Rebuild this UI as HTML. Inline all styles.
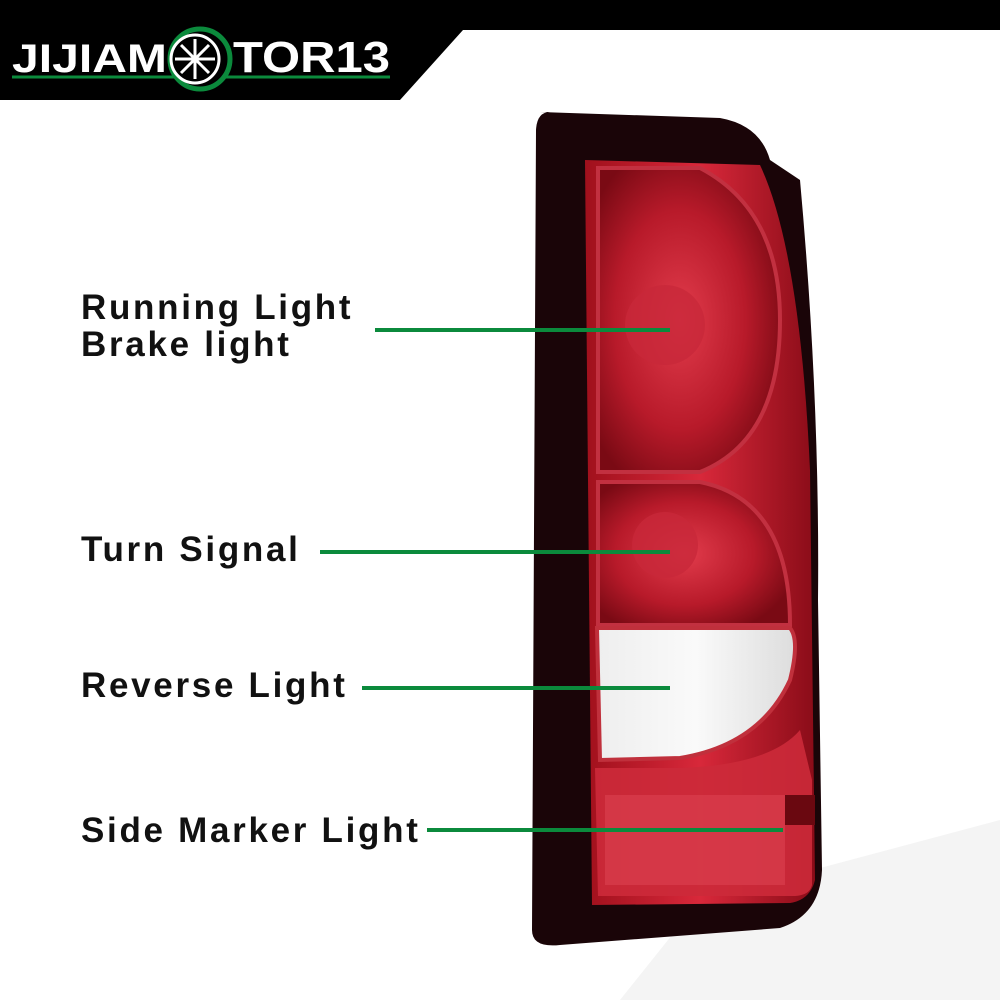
<!DOCTYPE html>
<html><head><meta charset="utf-8"><style>
body{margin:0;width:1000px;height:1000px;overflow:hidden;background:#fff;font-family:"Liberation Sans",sans-serif}
.t{position:absolute;font-weight:bold;font-size:35px;color:#111;letter-spacing:2.7px;line-height:37px}
</style></head><body>
<svg width="1000" height="1000" style="position:absolute;left:0;top:0">
<defs>
<linearGradient id="red" x1="0" x2="1"><stop offset="0" stop-color="#a0101c"/><stop offset="0.5" stop-color="#d8283a"/><stop offset="1" stop-color="#8a0c18"/></linearGradient>
<radialGradient id="lens" cx="0.45" cy="0.5" r="0.6"><stop offset="0" stop-color="#e23c4c"/><stop offset="0.6" stop-color="#b81a2a"/><stop offset="1" stop-color="#7a0a14"/></radialGradient>
<linearGradient id="wh" x1="0" x2="1"><stop offset="0" stop-color="#eee"/><stop offset="0.5" stop-color="#fafafa"/><stop offset="1" stop-color="#ddd"/></linearGradient>
</defs>
<polygon points="0,0 1000,0 1000,30 463,30 400,100 0,100" fill="#000"/>
<polygon points="700,900 1000,820 1000,1000 620,1000" fill="#ececec" opacity="0.6"/>
<path d="M540,112 L720,118 Q760,125 770,160 L800,180 Q820,400 818,600 L822,870 Q820,915 780,928 L560,945 Q532,948 532,930 L536,130 Q537,112 550,112 Z" fill="#1a0508"/>
<path d="M585,160 L760,165 Q800,250 810,470 L815,880 Q810,900 790,903 L592,905 Z" fill="url(#red)"/>
<path d="M598,168 L700,168 Q780,210 780,320 Q780,440 700,472 L598,472 Z" fill="url(#lens)" stroke="#c23040" stroke-width="4"/>
<circle cx="665" cy="325" r="40" fill="#c8283a" opacity="0.8"/>
<path d="M598,482 L700,482 Q790,500 790,625 L598,625 Z" fill="url(#lens)" stroke="#c23040" stroke-width="4"/>
<circle cx="665" cy="545" r="33" fill="#c8283a" opacity="0.8"/>
<path d="M597,628 L790,628 Q800,640 790,680 Q760,745 680,758 L600,760 Z" fill="url(#wh)" stroke="#c0303c" stroke-width="4"/>
<path d="M595,768 L680,768 Q770,765 800,730 L812,780 L812,885 Q810,895 795,896 L598,896 Z" fill="#cc2a3a" opacity="0.9"/>
<rect x="605" y="795" width="180" height="90" fill="#e04656" opacity="0.5"/>
<rect x="785" y="795" width="30" height="30" fill="#6a0810"/>
<g stroke="#0b8a3c" stroke-width="4">
<line x1="375" y1="330" x2="670" y2="330"/>
<line x1="320" y1="552" x2="670" y2="552"/>
<line x1="362" y1="688" x2="670" y2="688"/>
<line x1="427" y1="830" x2="783" y2="830"/>
</g>
<line x1="12" y1="77" x2="390" y2="77" stroke="#0b8a3c" stroke-width="3"/>
<circle cx="200" cy="59" r="30" fill="#000" stroke="#0b8a3c" stroke-width="5"/>
<circle cx="195" cy="59" r="24" fill="none" stroke="#fff" stroke-width="3"/>
<g stroke="#fff" stroke-width="3"><line x1="175" y1="59" x2="215" y2="59"/><line x1="195" y1="39" x2="195" y2="79"/><line x1="181" y1="45" x2="209" y2="73"/><line x1="209" y1="45" x2="181" y2="73"/></g>
<text x="12" y="72" font-family="Liberation Sans" font-weight="bold" font-size="40" fill="#fff" textLength="155" lengthAdjust="spacingAndGlyphs">JIJIAM</text>
<text x="233" y="72" font-family="Liberation Sans" font-weight="bold" font-size="44" fill="#fff" textLength="157" lengthAdjust="spacingAndGlyphs">TOR13</text>
</svg>
<div class="t" style="left:81px;top:289px">Running Light<br>Brake light</div>
<div class="t" style="left:81px;top:531px">Turn Signal</div>
<div class="t" style="left:81px;top:667px">Reverse Light</div>
<div class="t" style="left:81px;top:812px">Side Marker Light</div>
</body></html>
